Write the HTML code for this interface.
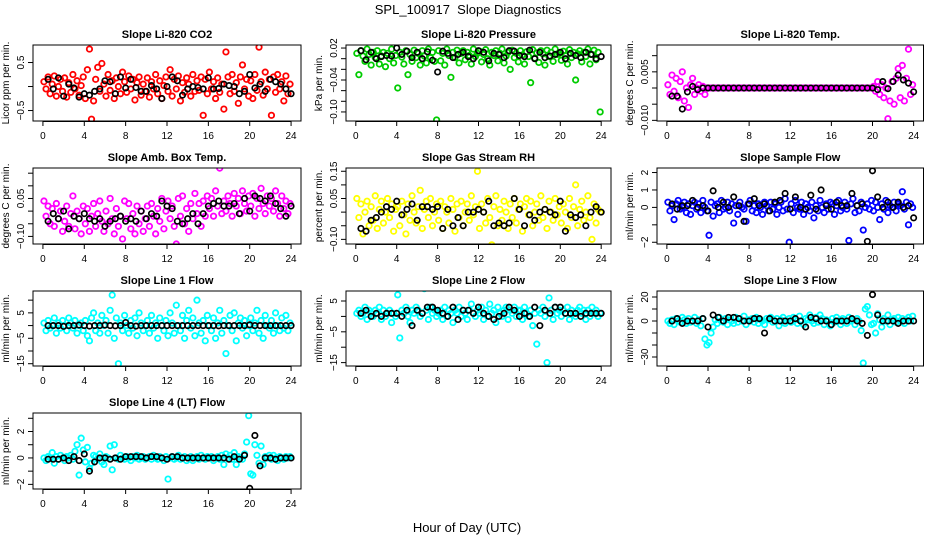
<!DOCTYPE html>
<html><head><meta charset="utf-8">
<style>
html,body{margin:0;padding:0;background:#fff;}
svg{display:block;font-family:"Liberation Sans",sans-serif;}
</style></head>
<body>
<svg id="chart" width="936" height="540" viewBox="0 0 936 540" xmlns="http://www.w3.org/2000/svg">
<rect width="936" height="540" fill="#fff"/>
<text x="468" y="14" text-anchor="middle" font-size="13" xml:space="preserve">SPL_100917  Slope Diagnostics</text>
<text x="467" y="532" text-anchor="middle" font-size="13">Hour of Day (UTC)</text>
</svg>
<script>
const xTicks = [0,4,8,12,16,20,24];
const co2 = [.1,-.05,.2,-.15,.05,.22,-.2,.0,.15,-.1,.18,-.22,.08,-.12,.25,-.05,.12,-.18,.02,.2,-.25,.35,.78,-.68,-.3,.15,.4,-.1,.48,.05,-.2,.25,-.08,.12,-.25,.18,.0,-.15,.3,.1,-.12,.22,-.05,.15,-.28,.08,.2,-.18,.05,-.1,.18,-.22,.1,-.05,.25,-.15,.12,-.25,.02,.2,-.1,.35,-.2,.15,-.05,.22,-.3,.08,-.12,.18,.05,-.2,.25,-.1,.12,-.08,.2,-.6,.15,-.15,.3,-.05,.1,-.25,.18,-.12,.05,-.47,.72,.2,-.15,.25,-.1,.08,-.35,.2,.45,-.05,.15,-.2,.12,-.25,.25,-.08,.82,.1,-.18,.3,-.05,.15,-.6,.2,-.12,.25,-.05,.1,-.3,.22,-.15,.05];
const co2Avg = [.15,-.05,.18,-.2,.05,-.03,-.22,-.15,-.18,-.1,-.05,.12,.1,-.15,.2,-.03,.15,-.02,-.1,-.1,.02,-.05,-.25,.0,.2,.12,-.18,-.05,.0,-.02,-.05,.18,-.05,-.04,.05,.02,.0,-.15,-.1,.25,-.03,.05,-.1,.15,.1,.05,-.05,-.15];
const press = [.01,-.03,.015,.005,-.005,.018,.008,-.012,.012,.002,.015,-.01,.005,.012,-.015,.01,.0,.018,-.008,.006,-.055,.012,.003,-.01,.015,-.03,.008,-.005,.016,.002,.01,-.012,.015,.005,-.008,.018,.002,.012,-.005,-.115,.015,-.004,.01,-.012,.018,.006,-.035,.012,.002,.016,-.008,.01,.015,-.002,.012,.006,-.01,.018,.004,.01,.014,-.006,.008,.017,.0,-.012,.012,.006,.015,-.004,.01,.018,-.008,.005,.012,-.02,.016,.002,.01,-.006,.015,.007,-.01,.013,.004,-.045,.017,.001,.011,-.007,.015,.009,-.012,.016,.004,.012,-.005,.018,.008,.01,-.003,.014,.006,-.01,.017,.002,.012,-.04,.009,.015,-.006,.012,.004,.018,-.01,.008,.016,-.002,.012,-.1];
const pressAvg = [.015,-.002,.012,.0,.004,.006,.005,.02,.008,.014,.002,.012,.0,.013,-.003,-.025,.014,.01,.002,.008,.012,.004,.0,.015,.012,-.004,.01,.008,.002,.015,.014,.006,.004,.016,.0,.012,.002,.005,.008,.012,.0,.01,.006,.002,.012,.008,.0,.004];
const ltemp = [.001,-.002,.004,-.001,.003,-.003,.002,.005,-.004,.0,
-.006,.001,.003,-.002,.0,.001,-.001,.0005,-.002,.0,
0,0,0,0,0,0,0,0,0,0,
0,0,0,0,0,0,0,0,0,0,
0,0,0,0,0,0,0,0,0,0,
0,0,0,0,0,0,0,0,0,0,
0,0,0,0,0,0,0,0,0,0,
0,0,0,0,0,0,0,0,0,0,
0,0,0,0,0,0,0,0,0,0,
0,0,0,0,0,0,0,0,0,0,
.0005,-.001,.002,-.002,.001,-.003,.0,-.0095,-.004,.002,
-.005,.003,.006,-.003,.007,-.004,.003,.012,-.002,.001];
const ltempAvg = [-.0025,-.0025,-.0065,-.0012,.0005,-.0005,0,0,0,0,0,0,0,0,0,0,0,0,0,0,0,0,0,0,0,0,0,0,0,0,0,0,0,0,0,0,0,0,0,0,-.0005,.002,-.0002,.002,.004,.0025,.0015,-.0012];
const amb = [.04,-.02,.02,-.05,.01,-.06,.03,-.03,.0,-.08,-.04,.02,-.06,-.01,.06,-.07,.0,-.03,-.09,.02,-.05,.01,-.08,-.02,.03,-.06,-.01,.04,-.04,-.08,.0,-.05,.05,-.03,-.09,.01,-.06,-.02,-.11,.04,-.03,.03,-.07,-.01,-.09,.02,-.05,.0,-.08,-.03,.02,-.06,.03,-.02,-.09,.01,-.04,.05,-.07,.0,.04,-.03,.02,-.06,-.13,.05,-.02,.06,-.05,.01,-.08,.03,-.03,.07,-.01,.03,-.06,.04,-.02,.06,.01,.05,-.02,.08,.02,.17,-.01,.04,.0,.06,.03,-.02,.07,.02,.05,-.01,.08,.03,.0,.06,.02,.07,-.02,.05,.01,.09,.03,-.01,.06,.02,.05,.0,.08,.03,-.02,.06,.01,.04,-.01,.03];
const ambAvg = [-.04,-.01,-.03,.0,-.07,-.02,-.03,-.01,-.03,-.04,-.03,-.06,-.04,-.03,-.02,-.04,-.03,-.04,.0,-.03,-.01,-.02,.04,.02,.01,-.04,-.05,-.03,-.01,-.05,-.01,.02,.03,.04,.02,.02,.03,-.01,.05,.0,.06,.05,.04,.06,.03,.01,-.02,.02];
const rh = [.05,-.02,.03,-.08,.0,.04,-.05,.02,-.03,.06,-.06,.01,.04,-.04,.0,.05,-.02,.03,-.07,.01,.02,-.05,.04,-.01,-.08,.03,-.03,.06,.0,-.04,.02,.08,-.06,.01,.04,-.02,.05,-.05,.0,.03,-.03,.04,-.06,.02,.0,-.04,.05,.01,-.07,.03,-.02,.04,-.05,.0,.03,-.03,.06,-.01,.02,.15,-.06,.03,.0,-.04,.05,-.02,-.12,.02,.06,-.05,.01,-.03,.04,.0,-.06,.03,-.02,.05,-.04,.01,.03,-.07,.02,.05,-.01,.04,-.05,.0,.03,-.03,.06,-.02,.01,-.06,.04,.0,-.03,.05,-.01,.02,-.04,.03,.0,-.06,.05,-.02,.02,.1,-.05,.01,.04,-.03,.0,.06,-.02,-.1,.03,-.04,.01,.0];
const rhAvg = [-.06,-.07,-.03,-.02,.0,.02,.01,.04,-.01,.01,.03,-.03,.02,.02,.01,.02,-.06,.01,-.05,-.02,-.05,.0,.0,.01,.0,.04,-.05,-.04,-.05,-.04,.05,.01,-.05,-.01,-.03,.0,.01,.0,-.01,.04,-.07,-.01,-.02,-.01,-.05,.0,.02,.0];
const sflow = [.3,-.2,.1,-.7,.2,.4,-.1,.0,.3,-.3,.2,-.4,.1,.3,-.1,.2,-.3,.4,.0,-.2,-1.6,.3,-.5,.1,.2,-.3,.4,-.1,.0,.3,-.2,.2,-.9,.1,-.4,.3,.0,-.1,-.8,.2,.4,-.2,.1,-.3,.2,.0,-.4,.3,.1,-.2,.3,-.1,.2,-.4,.0,.3,-.2,.5,-.1,-2.0,.2,-.3,.4,.0,-.1,.3,-.4,.2,.0,-.2,.3,-.6,.1,-.2,.4,.0,-.3,.2,-.1,.3,.2,-.4,.1,.4,-.2,.0,.3,-.1,-1.9,.2,.5,-.3,.1,-.2,.3,-1.3,.0,.2,-.1,.4,-.2,.3,.0,-.7,.2,-.1,.4,-.3,.1,.0,.3,-.2,.2,.1,.9,-.1,.3,-1.0,.2,.0];
const sflowAvg = [.2,-.1,.1,.1,.4,.0,.1,-.2,.95,.0,.3,.0,.6,.1,-.8,.2,.5,.1,.2,-.2,.3,.4,.8,-.1,.6,.0,-.1,.7,-.1,1.0,.1,-.1,.3,.1,.1,.8,.1,.2,-1.95,2.1,.6,.0,.3,.0,.3,.0,.1,-.6];
const line1 = [1,-2,2,-1,0,3,-3,1,-1,2,0,-2,3,1,-1,2,-3,0,1,-2,2,-4,-6,3,5,-2,1,-3,4,0,2,-3,6,12,-5,3,-15,1,-2,4,0,-3,2,-1,3,-4,5,1,-2,0,2,-3,4,-1,1,-5,3,0,-2,2,-4,5,1,-3,8,0,-2,4,-5,2,6,-1,3,-4,10,1,-3,2,-6,4,0,-2,3,-5,1,6,-3,2,-11,0,4,-2,5,-6,1,3,-1,2,-4,0,3,-2,1,6,-3,2,-5,4,0,-1,2,-3,5,0,-2,3,-1,4,-2,1];
const line1Avg = [0,0,0,-.3,0,0,.2,0,-.2,0,0,.2,0,-.1,0,1.2,0,-.2,0,0,0,0,0,0,0,0,0,0,0,0,0,0,0,-.1,0,0,0,0,0,.3,0,0,0,0,0,0,0,0];
const line2 = [1,2,0,1,3,-1,2,1,0,2,1,3,-1,2,0,1,2,-2,1,0,7,-7,2,1,3,0,-2,2,1,3,2,0,1,9,2,-1,3,1,2,0,1,2,-1,3,0,2,1,-2,2,1,3,0,2,1,-1,2,4,1,0,2,1,3,-1,2,0,4,1,2,-2,3,1,0,2,3,-1,2,1,3,0,2,2,-1,3,1,0,2,-3,1,-9,2,1,3,0,-15,6,2,-1,3,1,2,0,2,1,3,-1,2,1,0,2,3,1,2,-1,2,0,3,1,2,0,1];
const line2Avg = [1,2,0,1,0,1,1,1,0,2,-3,2,1,3,3,2,1,0,3,-1,2,2,1,3,1,0,-1,0,1,3,2,0,1,0,3,-3,2,1,3,3,1,1,1,0,1,1,1,1];
const line3 = [0,-2,1,-3,2,0,-1,3,1,-2,2,-1,0,3,-2,1,-4,2,-15,-20,-18,-10,-5,1,-2,3,0,-1,2,-3,1,0,-2,3,-1,2,0,4,-3,1,0,2,-1,3,-2,1,0,-3,2,1,3,-1,0,2,-4,1,3,-2,0,2,-1,3,1,-2,4,0,-3,2,1,5,0,-2,3,-1,5,2,-3,1,0,-4,2,-1,3,0,-3,2,1,-2,3,0,1,-3,2,0,-8,-35,10,12,5,-3,-2,-10,6,1,-5,2,0,5,-3,1,2,-1,3,0,2,-2,1,3,0,4];
const line3Avg = [0,2,-2,0,0,0,2,-5,5,3,0,3,3,2,0,0,2,2,-10,2,0,0,0,0,2,0,-5,3,2,0,0,-3,0,0,0,2,0,-2,-12,22,5,0,0,0,-2,0,0,0];
const line4 = [0,-.2,.1,.0,.4,-.4,.1,-.1,.2,.0,-.2,.1,.0,.2,-.1,.5,1.0,-1.3,1.5,.6,-.3,.8,-.8,-.4,.2,.1,-.1,.3,-.3,-.5,.1,.0,.9,-.9,1.0,.0,-.1,.2,.0,-.1,.1,.0,-.2,.1,.0,.2,-.1,.0,.1,-.1,.0,.1,-.1,.2,.0,-.1,.1,.0,-.2,.1,-1.6,.0,.1,-.1,.0,.2,-.1,.0,.1,-.2,.0,.1,-.2,.0,.1,-.1,.2,.0,-.1,.1,.0,.1,-.2,.0,.1,-.1,.2,-.5,.3,.0,.2,-.1,.4,-.5,.1,.0,-.1,.3,1.2,3.2,-1.2,-1.3,1.0,.2,-.4,.9,-.5,.1,.0,.2,-.1,.2,.0,-.2,.1,.0,-.1,.1,.0,.1];
const line4Avg = [-.1,-.1,-.1,0,-.2,.1,-.2,.3,-1.0,-.3,0,0,-.1,0,-.1,.1,.1,.1,.1,0,.1,.1,0,-.1,.1,.1,0,0,0,0,0,0,0,0,0,-.1,.1,-.1,.2,-2.3,1.7,-.6,0,0,-.1,0,0,0];

const panels = [
 {name:'co2',title:'Slope Li-820 CO2',ylab:'Licor ppm per min.',col:'#ff0000',c:0,r:0,lim:[-0.718,0.865],ticks:[-0.5,0,0.5],labels:[-0.5,0.5],fmt:1,v:co2,a:co2Avg},
 {name:'pressure',title:'Slope Li-820 Pressure',ylab:'kPa per min.',col:'#00cc00',c:1,r:0,lim:[-0.117,0.0257],ticks:[-0.1,-0.08,-0.06,-0.04,-0.02,0,0.02],labels:[-0.1,-0.04,0.02],fmt:2,v:press,a:pressAvg},
 {name:'li-temp',title:'Slope Li-820 Temp.',ylab:'degrees C per min.',col:'#ff00ff',c:2,r:0,lim:[-0.0102,0.0133],ticks:[-0.01,-0.005,0,0.005,0.01],labels:[-0.01,0.005],fmt:3,v:ltemp,a:ltempAvg},
 {name:'amb-temp',title:'Slope Amb. Box Temp.',ylab:'degrees C per min.',col:'#ff00ff',c:0,r:1,lim:[-0.13,0.1705],ticks:[-0.1,-0.05,0,0.05,0.1,0.15],labels:[-0.1,0.05],fmt:2,v:amb,a:ambAvg},
 {name:'gas-rh',title:'Slope Gas Stream RH',ylab:'percent per min.',col:'#ffff00',c:1,r:1,lim:[-0.117,0.162],ticks:[-0.1,-0.05,0,0.05,0.1,0.15],labels:[-0.1,0.05,0.15],fmt:2,v:rh,a:rhAvg},
 {name:'sample-flow',title:'Slope Sample Flow',ylab:'ml/min per min.',col:'#0000ff',c:2,r:1,lim:[-2.1,2.26],ticks:[-2,-1,0,1,2],labels:[-2,0,1,2],fmt:0,v:sflow,a:sflowAvg},
 {name:'line1-flow',title:'Slope Line 1 Flow',ylab:'ml/min per min.',col:'#00ffff',c:0,r:2,lim:[-15.9,13.6],ticks:[-15,-10,-5,0,5,10],labels:[-15,-5,5],fmt:0,v:line1,a:line1Avg},
 {name:'line2-flow',title:'Slope Line 2 Flow',ylab:'ml/min per min.',col:'#00ffff',c:1,r:2,lim:[-16.1,8.25],ticks:[-15,-10,-5,0,5],labels:[-15,-5,5],fmt:0,v:line2,a:line2Avg},
 {name:'line3-flow',title:'Slope Line 3 Flow',ylab:'ml/min per min.',col:'#00ffff',c:2,r:2,lim:[-37.5,25],ticks:[-30,-20,-10,0,10,20],labels:[-30,0,20],fmt:0,v:line3,a:line3Avg},
 {name:'line4-flow',title:'Slope Line 4 (LT) Flow',ylab:'ml/min per min.',col:'#00ffff',c:0,r:3,lim:[-2.35,3.4],ticks:[-2,-1,0,1,2,3],labels:[-2,0,2],fmt:0,v:line4,a:line4Avg}
];
const colX = [[33,301],[346,611],[657,923.5]];
const rowY = [[45,121],[168,244],[291,366],[413,489]];
const NS = 'http://www.w3.org/2000/svg';
const svg = document.getElementById('chart');
function mk(tag, attrs, parent){const e=document.createElementNS(NS,tag);for(const k in attrs)e.setAttribute(k,attrs[k]);(parent||svg).appendChild(e);return e;}
function fmtNum(v,d){return (v<0?'\u2212':'')+Math.abs(v).toFixed(d);}
panels.forEach(p=>{
  const [x0,x1]=colX[p.c],[y0,y1]=rowY[p.r];
  const xs=h=>x0+(h+0.96)/25.92*(x1-x0);
  const ys=v=>y1-(v-p.lim[0])/(p.lim[1]-p.lim[0])*(y1-y0);
  const g=mk('g',{});
  
  
  const t=mk('text',{x:(x0+x1)/2,y:y0-7,'text-anchor':'middle','font-size':'11','font-weight':'bold'},g);
  t.textContent=p.title;
  
  
  const clip=mk('clipPath',{id:'clip-'+p.name},g);
  mk('rect',{x:x0,y:y0,width:x1-x0,height:y1-y0},clip);
  const pts=mk('g',{'clip-path':'url(#clip-'+p.name+')'},g);
  
  
  p.v.forEach((v,i)=>{
    const c=mk('circle',{cx:xs(0.1+i*0.2),cy:ys(v),r:2.7,fill:'none',stroke:p.col,'stroke-width':1.8},pts);
    
    
  });
  p.a.forEach((v,i)=>{
    const c=mk('circle',{cx:xs(0.5*(i+1)),cy:ys(v),r:2.7,fill:'none',stroke:'#000','stroke-width':1.7},pts);
    
    
  });
  const box=mk('rect',{x:x0,y:y0,width:x1-x0,height:y1-y0,fill:'none',stroke:'#000','stroke-width':1},g);
  
  
  xTicks.forEach(h=>{
    mk('line',{x1:xs(h),x2:xs(h),y1:y1,y2:y1+5,stroke:'#000'},g);
    const l=mk('text',{x:xs(h),y:y1+18,'text-anchor':'middle','font-size':'10'},g);
    l.textContent=h;
    
    
  });
  mk('line',{x1:xs(0),x2:xs(24),y1:y1+0.5,y2:y1+0.5,stroke:'#000'},g);
  p.ticks.forEach(v=>{
    mk('line',{x1:x0-5,x2:x0,y1:ys(v),y2:ys(v),stroke:'#000'},g);
  });
  p.labels.forEach(v=>{
    const tx=x0-9, ty=ys(v);
    const l=mk('text',{x:tx,y:ty,'text-anchor':'middle','font-size':'10',transform:'rotate(-90 '+tx+' '+ty+')'},g);
    l.textContent=fmtNum(v,p.fmt);
    
    
  });
  const lx=x0-24, ly=(y0+y1)/2;
  const yl=mk('text',{x:lx,y:ly,'text-anchor':'middle','font-size':'10',transform:'rotate(-90 '+lx+' '+ly+')'},g);
  yl.textContent=p.ylab;
  
  
});
</script>
</body></html>
